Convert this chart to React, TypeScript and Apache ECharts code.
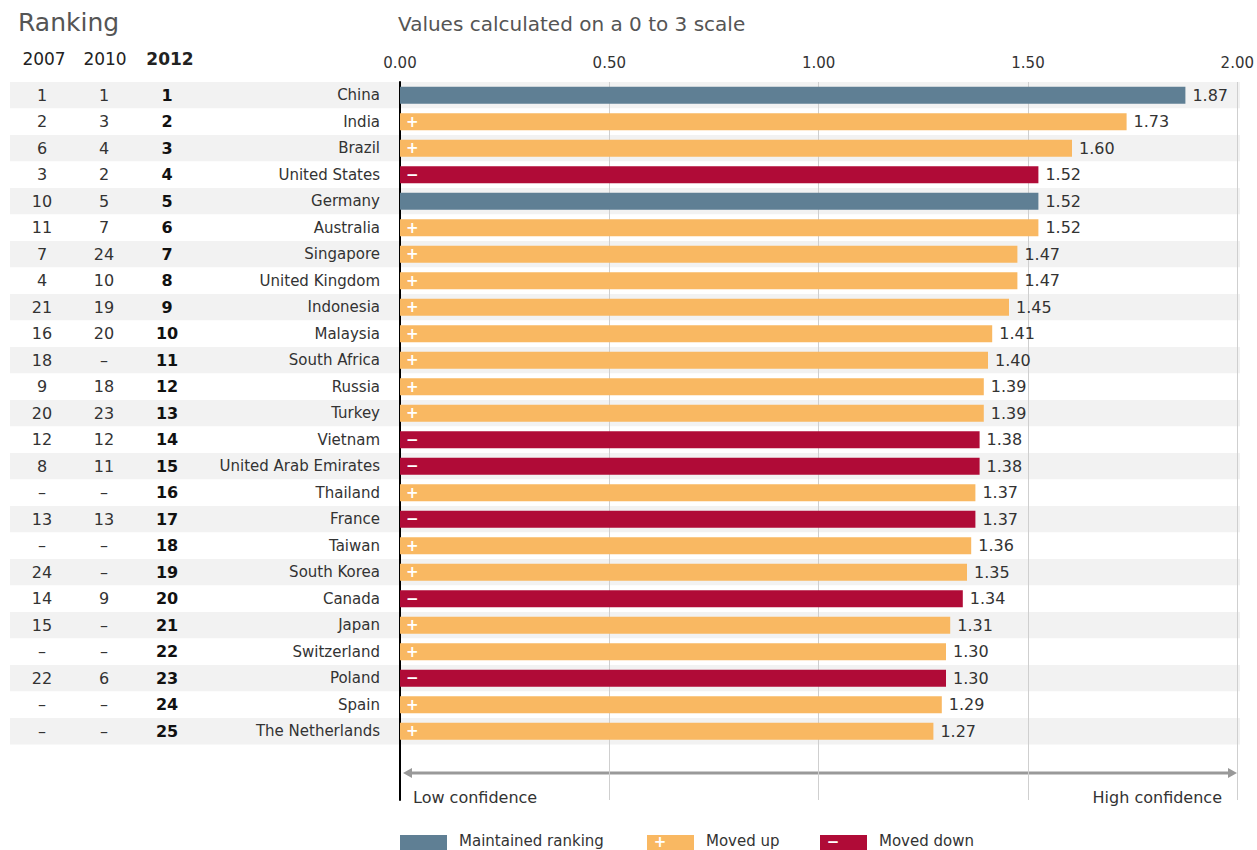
import React, { useEffect, useRef } from "react";
import * as echarts from "echarts";

const countries = [
  "China", "India", "Brazil", "United States", "Germany", "Australia", "Singapore",
  "United Kingdom", "Indonesia", "Malaysia", "South Africa", "Russia", "Turkey",
  "Vietnam", "United Arab Emirates", "Thailand", "France", "Taiwan", "South Korea",
  "Canada", "Japan", "Switzerland", "Poland", "Spain", "The Netherlands",
];
const rank2007 = ["1", "2", "6", "3", "10", "11", "7", "4", "21", "16", "18", "9", "20", "12", "8", "–", "13", "–", "24", "14", "15", "–", "22", "–", "–"];
const rank2010 = ["1", "3", "4", "2", "5", "7", "24", "10", "19", "20", "–", "18", "23", "12", "11", "–", "13", "–", "–", "9", "–", "–", "6", "–", "–"];
const rank2012 = ["1", "2", "3", "4", "5", "6", "7", "8", "9", "10", "11", "12", "13", "14", "15", "16", "17", "18", "19", "20", "21", "22", "23", "24", "25"];
const values = [1.87, 1.73, 1.6, 1.52, 1.52, 1.52, 1.47, 1.47, 1.45, 1.41, 1.4, 1.39, 1.39, 1.38, 1.38, 1.37, 1.37, 1.36, 1.35, 1.34, 1.31, 1.3, 1.3, 1.29, 1.27];
const status = ["same", "up", "up", "down", "same", "up", "up", "up", "up", "up", "up", "up", "up", "down", "down", "up", "down", "up", "up", "down", "up", "up", "down", "up", "up"];
const yearHeaders = ["2007", "2010", "2012"];
const legendItems = [
  { key: "same", label: "Maintained ranking", sign: "" },
  { key: "up", label: "Moved up", sign: "+" },
  { key: "down", label: "Moved down", sign: "−" },
];

const COLORS: Record<string, string> = { same: "#5f7f94", up: "#f9b862", down: "#b00b37" };
const SIGNS: Record<string, string> = { same: "", up: "+", down: "−" };
const FONT = "DejaVu Sans";
const TEXT = "#333";

export default function App() {
  const ref = useRef<HTMLDivElement>(null);
  useEffect(() => {
    if (!ref.current) return;
    const chart = echarts.init(ref.current, undefined, { renderer: "svg" });
    const top = 82;
    const rowH = 26.5;
    const gridH = rowH * countries.length;
    const rankAxis = (arr: string[], offset: number, bold: boolean) => ({
      type: "category",
      gridIndex: 0,
      inverse: true,
      position: "left",
      offset,
      data: countries,
      axisLine: { show: false },
      axisTick: { show: false },
      axisLabel: {
        margin: 0,
        align: "center",
        fontFamily: FONT,
        fontSize: 16,
        fontWeight: bold ? "bold" : "normal",
        color: bold ? "#111" : TEXT,
        formatter: (_v: string, i: number) => arr[i],
      },
    });
    const legendGraphics: any[] = [];
    const legX = [400, 647, 820];
    legendItems.forEach((it, i) => {
      legendGraphics.push({
        type: "rect",
        shape: { x: legX[i], y: 835, width: 47, height: 20 },
        style: { fill: COLORS[it.key] },
      });
      if (it.sign) {
        legendGraphics.push({
          type: "text",
          x: legX[i] + 13,
          y: 842,
          style: { text: it.sign, fill: "#fff", font: `bold 15px ${FONT}`, textVerticalAlign: "middle", textAlign: "center" },
        });
      }
      legendGraphics.push({
        type: "text",
        x: legX[i] + 59,
        y: 841,
        style: { text: it.label, fill: TEXT, font: `15px ${FONT}`, textVerticalAlign: "middle" },
      });
    });
    const headerX = [44, 105, 170];
    chart.setOption({
      animation: false,
      grid: [
        { left: 400, right: 17, top, height: gridH },
        { left: 400, right: 17, top, bottom: 50 },
        { left: 10, right: 17, top, height: gridH },
      ],
      xAxis: [
        { type: "value", gridIndex: 0, min: 0, max: 2, show: false },
        {
          type: "value", gridIndex: 1, min: 0, max: 2, interval: 0.5, position: "top",
          axisLine: { show: false }, axisTick: { show: false },
          axisLabel: { margin: 12, fontFamily: FONT, fontSize: 15, color: TEXT, formatter: (v: number) => v.toFixed(2) },
          splitLine: { show: true, lineStyle: { color: "#cfcfcf", width: 1 } },
        },
        { type: "value", gridIndex: 2, min: 0, max: 1, show: false },
      ],
      yAxis: [
        {
          type: "category", gridIndex: 0, inverse: true, data: countries,
          axisLine: { show: false }, axisTick: { show: false },
          axisLabel: { margin: 20, fontFamily: FONT, fontSize: 15, color: TEXT },
        },
        {
          type: "value", gridIndex: 1, min: 0, max: 1, show: true,
          axisLine: { show: true, lineStyle: { color: "#000", width: 2 } },
          axisTick: { show: false }, axisLabel: { show: false }, splitLine: { show: false },
        },
        {
          type: "category", gridIndex: 2, inverse: true, data: countries,
          axisLine: { show: false }, axisTick: { show: false }, axisLabel: { show: false },
          splitArea: { show: true, areaStyle: { color: ["#f2f2f2", "#ffffff"] } },
        },
        rankAxis(rank2007, 400 - 42, false),
        rankAxis(rank2010, 400 - 104, false),
        rankAxis(rank2012, 400 - 167, true),
      ],
      series: [
        {
          type: "bar",
          xAxisIndex: 0,
          yAxisIndex: 0,
          barWidth: 17,
          barGap: "-100%",
          data: values.map((v, i) => ({ value: v, itemStyle: { color: COLORS[status[i]] } })),
          label: {
            show: true,
            position: "insideLeft",
            distance: 6,
            formatter: (p: any) => SIGNS[status[p.dataIndex]],
            color: "#fff",
            fontFamily: FONT,
            fontSize: 15,
            fontWeight: "bold",
          },
          silent: true,
        },
        {
          type: "bar",
          xAxisIndex: 0,
          yAxisIndex: 0,
          barWidth: 17,
          barGap: "-100%",
          data: values,
          itemStyle: { color: "rgba(0,0,0,0)" },
          label: {
            show: true,
            position: "right",
            distance: 7,
            formatter: (p: any) => p.value.toFixed(2),
            color: TEXT,
            fontFamily: FONT,
            fontSize: 16,
          },
          silent: true,
        },
      ],
      graphic: [
        { type: "text", x: 18, y: 22, style: { text: "Ranking", fill: "#555", font: `25px ${FONT}`, textVerticalAlign: "middle" } },
        { type: "text", x: 398, y: 24, style: { text: "Values calculated on a 0 to 3 scale", fill: "#555", font: `20px ${FONT}`, textVerticalAlign: "middle" } },
        ...yearHeaders.map((y, i) => ({
          type: "text", x: headerX[i], y: 59,
          style: { text: y, fill: "#222", font: `${i === 2 ? "bold " : ""}17px ${FONT}`, textAlign: "center", textVerticalAlign: "middle" },
        })),
        { type: "line", shape: { x1: 408, y1: 773, x2: 1232, y2: 773 }, style: { stroke: "#999", lineWidth: 3 } },
        { type: "polygon", shape: { points: [[403, 773], [412, 768], [412, 778]] }, style: { fill: "#999" } },
        { type: "polygon", shape: { points: [[1237, 773], [1228, 768], [1228, 778]] }, style: { fill: "#999" } },
        { type: "text", x: 413, y: 797, style: { text: "Low confidence", fill: TEXT, font: `16px ${FONT}`, textVerticalAlign: "middle" } },
        { type: "text", x: 1222, y: 797, style: { text: "High confidence", fill: TEXT, font: `16px ${FONT}`, textAlign: "right", textVerticalAlign: "middle" } },
        ...legendGraphics,
      ],
    });
    return () => chart.dispose();
  }, []);
  return <div ref={ref} style={{ position: "absolute", left: 0, top: 0, width: 1257, height: 850 }} />;
}
